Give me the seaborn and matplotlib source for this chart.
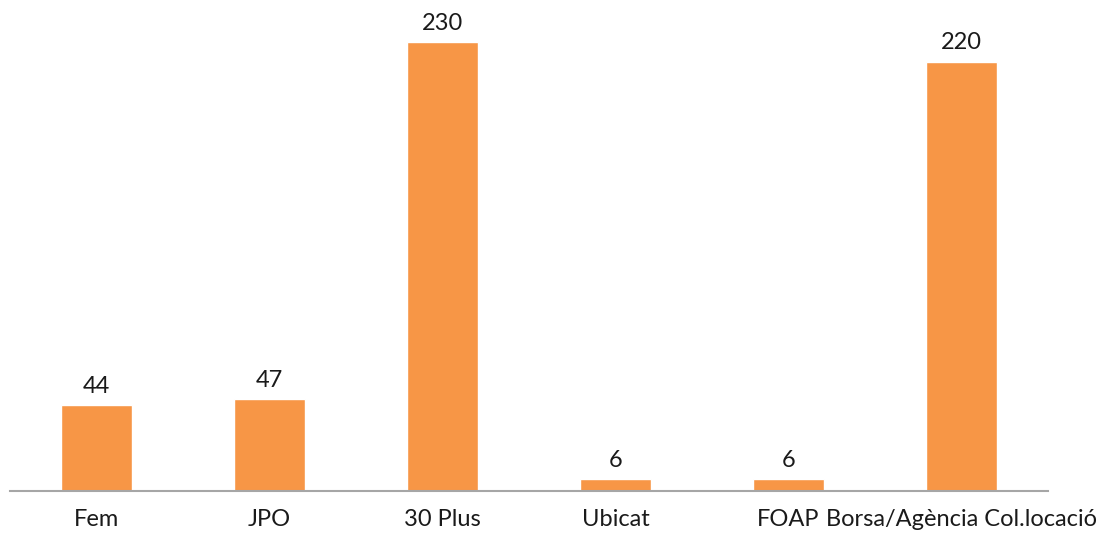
import matplotlib
matplotlib.use("Agg")
import matplotlib.pyplot as plt
import seaborn as sns
import pandas as pd

categories = ["Fem", "JPO", "30 Plus", "Ubicat", "FOAP", "Borsa/Agència Col.locació"]
values = [44, 47, 230, 6, 6, 220]

sns.set_theme(style="white")
plt.rcParams['font.family'] = ['Lato', 'DejaVu Sans']

df = pd.DataFrame({"cat": categories, "val": values})
fig = plt.figure(figsize=(11.09, 5.33), dpi=100)
ax = fig.add_axes([10/1109, 42/533, 1038/1109, 488/533])
sns.barplot(data=df, x="cat", y="val", color="#F79646", saturation=1, width=0.405, ax=ax)
ax.set_xlim(-0.5, 5.5)
ax.set_ylim(0, 250)
for c in ax.containers:
    ax.bar_label(c, labels=[str(v) for v in values], padding=6, fontsize=17, color="#1a1a1a")
ax.set_xlabel("")
ax.set_ylabel("")
ax.set_yticks([])
for s in ["top", "right", "left"]:
    ax.spines[s].set_visible(False)
ax.spines["bottom"].set_color("#a6a6a6")
ax.spines["bottom"].set_linewidth(1.5)
ax.tick_params(axis="x", length=0, labelsize=17, labelcolor="#1a1a1a", pad=13)
fig.savefig("out.png", dpi=100)
